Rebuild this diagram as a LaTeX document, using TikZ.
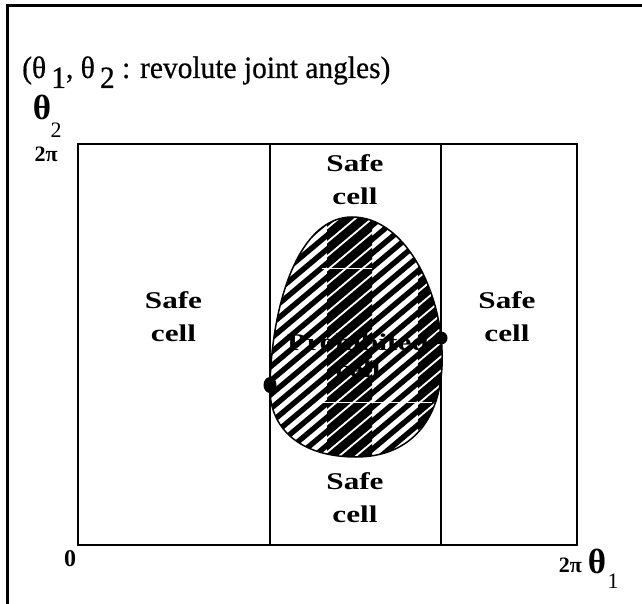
\documentclass[tikz,border=0pt]{standalone}
\usepackage{fontspec}
\setmainfont{Liberation Serif}
\newfontfamily\cellfont[FakeStretch=1.3]{Liberation Serif Bold}
\newfontfamily\titlefont[FakeStretch=0.95,FakeBold=0.6]{Liberation Serif}
\newfontfamily\subfont{Liberation Serif}
\newfontfamily\thetafont{Liberation Serif Bold}
\begin{document}
\begin{tikzpicture}[x=1pt,y=-1pt,
  cell/.style={align=center,inner sep=0pt,font=\cellfont\fontsize{24}{33}\selectfont},
  lbl/.style={inner sep=0pt,font=\subfont\fontsize{22}{24}\selectfont},
  thlbl/.style={inner sep=0pt,font=\thetafont\fontsize{35}{36}\selectfont},
  frame/.style={line width=3pt},
  grid/.style={line width=2pt},
  hatch/.style={line width=5.4pt},
  hatchdark/.style={line width=8.6pt}]
\useasboundingbox (0,0) rectangle (642,604);
% outer frame (cropped)
\draw[frame] (7.5,604) -- (7.5,5.5) -- (642,5.5);
% title
\node[anchor=base west,inner sep=0pt,font=\titlefont\fontsize{31}{36}\selectfont] (title) at (22,78)
  {(θ\,\raisebox{-10pt}{1}, θ\,\raisebox{-10pt}{2} : revolute joint angles)};
% axes labels
\node[anchor=base,thlbl] (th2) at (42,120) {θ};
\node[anchor=base,lbl] (th2s) at (56,138) {2};
\node[anchor=base east,lbl,font=\thetafont\fontsize{22}{24}\selectfont] (tp) at (58,162) {2π};
\node[anchor=base,lbl,font=\thetafont\fontsize{24}{28}\selectfont] (zero) at (70,566) {0};
\node[anchor=base east,lbl,font=\thetafont\fontsize{22}{24}\selectfont] (rp) at (582,572) {2π};
\node[anchor=base,thlbl] (th1) at (597,573) {θ};
\node[anchor=base,lbl] (th1s) at (613,588) {1};
% grid
\coordinate (A) at (78,144);
\coordinate (B) at (577,545);
\draw[grid] (A) rectangle (B);
\coordinate (v1t) at (269.5,144);
\coordinate (v1b) at (269.5,545);
\coordinate (v2t) at (441,144);
\coordinate (v2b) at (441,545);
\draw[grid] (v1t) -- (v1b);
\draw[grid] (v2t) -- (v2b);
% egg with hatching
\def\egg{(352,217) .. controls (405,217) and (440,290) .. (442,350) .. controls (445,420) and (410,457) .. (356,457) .. controls (300,457) and (268,428) .. (270,385) .. controls (272,300) and (300,217) .. (352,217) -- cycle}
\begin{scope}
  \clip \egg;
  \fill[white] (260,200) rectangle (450,470);
  \foreach \k in {0,...,30} {
    \draw[hatch] (250,{230+14*\k}) -- ++(250,-210);
  }
  \begin{scope}
    \clip (327,200) rectangle (372,470) (418,200) rectangle (450,470);
    \foreach \k in {0,...,30} {
      \draw[hatchdark] (250,{230+14*\k}) -- ++(250,-210);
    }
  \end{scope}
  \draw[white,line width=0.8pt] (322,268) -- (372,268);
  \draw[white,line width=0.8pt] (322,402) -- (432,402);
\end{scope}
\draw[line width=1.5pt] \egg;
% contact points
\fill (270,385) ellipse (6.5 and 8);
\fill (441,338) circle (6.5);
% cell labels
\node[cell] (safeL) at (173.5,317) {Safe\\cell};
\node[cell] (safeR) at (507,317) {Safe\\cell};
\node[cell] (safeT) at (355,180) {Safe\\cell};
\node[cell] (safeB) at (355,498) {Safe\\cell};
\node[cell,font=\cellfont\fontsize{24}{27}\selectfont] (proh) at (358,356) {Prohibited\\cell};
\end{tikzpicture}
\end{document}
